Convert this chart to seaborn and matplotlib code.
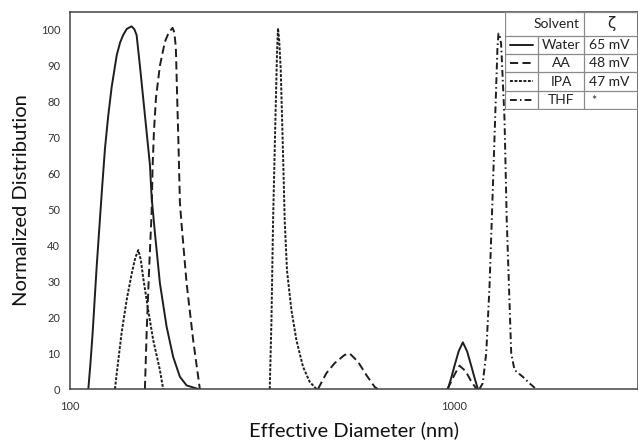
import numpy as np
import pandas as pd
import matplotlib
matplotlib.use("Agg")
import matplotlib.pyplot as plt
import matplotlib.ticker as mticker
import seaborn as sns

# ================= DATA =================

SOLVENTS = ["Water", "AA", "IPA", "THF"]
ZETA = ["65 mV", "48 mV", "47 mV", "*"]

# Water: main peak + small peak near 1000 nm
water_d1 = [111.6, 113.0, 114.5, 117.3, 121.0, 123.3, 125.7, 128.3, 132.3, 135.0, 137.5,
            140.5, 144.6, 147.0, 149.0, 152.0, 155.0, 158.2, 161.4, 163.0, 166.3,
            171.3, 178.3, 185.4, 193.1, 201.0, 215.4]
water_v1 = [0, 7, 15.5, 34, 55, 67, 76, 84, 93, 96.5, 98.6,
            100.3, 101, 100.2, 98.6, 90, 81, 71.6, 62.4, 53.5, 43.4,
            29.5, 17.4, 9, 3.4, 1.0, 0]
water_d2 = [960.7, 980, 1000, 1025, 1051, 1078, 1105, 1128, 1150]
water_v2 = [0, 3, 6.5, 10.5, 13, 10.5, 6.5, 3, 0]

# AA: main peak + bump ~530 nm + bump ~1030 nm
aa_d1 = [156.6, 158.2, 160.7, 163.0, 164.0, 165.3, 167.3, 171.3, 176.5, 180.5,
         184.8, 186.8, 188.5, 190.0, 191.6, 193.1, 195.0, 201.0, 209.1, 217.6]
aa_v1 = [0, 15.5, 34, 49, 62, 71.6, 81, 90, 96.7, 99.2,
         100.6, 99.3, 95, 81, 67, 52, 46, 29.5, 13.6, 0]
aa_d2 = [441.5, 464.2, 487.8, 518.0, 533.7, 560.9, 589.7, 619.7, 631]
aa_v2 = [0, 4.4, 7.2, 9.5, 9.9, 7.6, 3.9, 0.6, 0]
aa_d3 = [959, 1000, 1030, 1068, 1107, 1141]
aa_v3 = [0, 4, 6.5, 5, 2, 0]

# IPA: small peak ~150 nm + sharp peak ~350 nm
ipa_d1 = [130.9, 132.3, 136.2, 140.4, 144.6, 147.8, 150.5, 152.8, 155.0, 159.7,
          164.6, 171.3, 174.7]
ipa_v1 = [0, 4.4, 15.6, 24.8, 32, 36.5, 38.7, 36, 31, 22,
          13.6, 5.3, 0]
ipa_d2 = [330.7, 334.1, 337.4, 342.1, 345.5, 347.5, 350.0, 353.2, 358.1, 361.7,
          366.7, 376.5, 388.0, 403.6, 420.1, 437.3]
ipa_v2 = [0, 19, 47, 75, 94, 100.5, 97, 89, 65.6, 47,
          33, 22, 13.6, 6.2, 2, 0]

# THF: sharp peak ~1300 nm
thf_d1 = [1161, 1184, 1209, 1233, 1258, 1283, 1293, 1301, 1311, 1322, 1349, 1367,
          1390, 1404, 1432, 1505, 1566, 1630]
thf_v1 = [0, 1.6, 10, 28.5, 56, 84, 95, 99, 98.5, 96, 75, 47,
          24, 10, 5.3, 3.4, 1.6, 0]

# ================= BUILD TABLE =================

segments = [
    ("Water", 1, water_d1, water_v1), ("Water", 2, water_d2, water_v2),
    ("AA", 1, aa_d1, aa_v1), ("AA", 2, aa_d2, aa_v2), ("AA", 3, aa_d3, aa_v3),
    ("IPA", 1, ipa_d1, ipa_v1), ("IPA", 2, ipa_d2, ipa_v2),
    ("THF", 1, thf_d1, thf_v1),
]
rows = []
for solvent, peak, d, v in segments:
    for dd, vv in zip(d, v):
        rows.append({"d": dd, "v": vv, "solvent": solvent, "peak": f"{solvent}{peak}"})
df = pd.DataFrame(rows)

DASHES = {"Water": "", "AA": (4.2, 2.2), "IPA": (1.5, 0.8), "THF": (3.5, 1.6, 0.8, 1.6)}
LINE = "#1e1e1e"
LW = 1.4

# ================= PLOT =================

sns.set_style("white")
plt.rcParams["font.family"] = ["Lato", "DejaVu Sans"]

W, H = 638, 443
fig = plt.figure(figsize=(W / 100, H / 100), dpi=100)
ax = fig.add_axes([70 / W, 1 - 389 / H, (W - 70) / W, 377 / H])

sns.lineplot(
    data=df, x="d", y="v", style="solvent", units="peak", estimator=None,
    sort=False, dashes=DASHES, color=LINE, linewidth=LW, legend=False, ax=ax
)

ax.set_xscale("log")
ax.set_xlim(100, 3000)
ax.set_ylim(0, 105)
ax.set_xticks([100, 1000])
ax.xaxis.set_major_formatter(mticker.FixedFormatter(["100", "1000"]))
ax.xaxis.set_minor_locator(mticker.FixedLocator([200, 300, 400, 500, 600, 700, 800, 900, 2000, 3000]))
ax.xaxis.set_minor_formatter(mticker.NullFormatter())
ax.set_yticks(range(0, 101, 10))
ax.tick_params(axis="x", which="both", direction="inout", length=5, width=0.8,
               color="#555", labelsize=8, labelcolor="#333", pad=6)
ax.tick_params(axis="y", direction="out", length=4, width=0.8, color="#555",
               labelsize=8, labelcolor="#333", pad=3)

for s in ["left", "bottom", "top", "right"]:
    ax.spines[s].set_color("#444")
    ax.spines[s].set_linewidth(1.1)

ax.set_xlabel("Effective Diameter (nm)", fontsize=14.5, color="#111", labelpad=7)
ax.set_ylabel("Normalized Distribution", fontsize=14.5, color="#111", labelpad=8)

# ================= LEGEND TABLE =================

lx0, lx1, ly0, ly1 = 505, 638, 12, 110
lg = fig.add_axes([lx0 / W, 1 - ly1 / H, (lx1 - lx0) / W, (ly1 - ly0) / H])
lg.set_xlim(lx0, lx1)
lg.set_ylim(ly1, ly0)
lg.axis("off")
lg.patch.set_visible(True)
lg.patch.set_facecolor("white")

row_y = [12, 36, 54, 72, 91, 109]
col_sample, col_name, col_zeta = 505, 538, 584
grid = dict(color="#8a8a8a", lw=0.9)
for y in row_y:
    lg.plot([lx0, lx1], [y, y], **grid)
lg.plot([col_sample, col_sample], [row_y[0], row_y[-1]], **grid)
lg.plot([col_name, col_name], [row_y[1], row_y[-1]], **grid)
lg.plot([col_zeta, col_zeta], [row_y[0], row_y[-1]], **grid)
lg.plot([lx1 - 0.5, lx1 - 0.5], [row_y[0], row_y[-1]], **grid)

lg.text(557, 24, "Solvent", ha="center", va="center", fontsize=10, color="#222")
lg.text(611, 24, "ζ", ha="center", va="center", fontsize=11, color="#222",
        family=["DejaVu Sans"])
for i, (name, zeta) in enumerate(zip(SOLVENTS, ZETA)):
    yc = (row_y[i + 1] + row_y[i + 2]) / 2
    ln, = lg.plot([510, 533], [yc, yc], color=LINE, lw=LW)
    if DASHES[name]:
        ln.set_dashes(DASHES[name])
    lg.text(561, yc, name, ha="center", va="center", fontsize=10, color="#222")
    if zeta == "*":
        lg.text(591, yc + 1, zeta, ha="left", va="center", fontsize=9, color="#222")
    else:
        lg.text(609, yc, zeta, ha="center", va="center", fontsize=10, color="#222")

fig.savefig("out.png", dpi=100)
